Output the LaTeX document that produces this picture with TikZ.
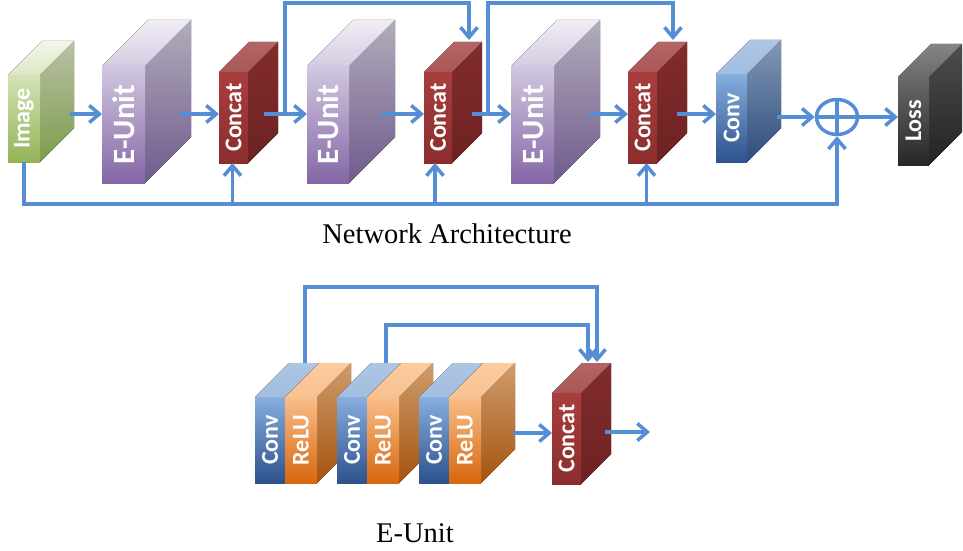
\documentclass[tikz,border=0pt]{standalone}
\usepackage{fontspec}
\setmainfont{Liberation Serif}
\newfontfamily\lblfont{Carlito}
\usetikzlibrary{arrows.meta,calc,shapes.geometric}
\definecolor{ablue}{HTML}{558ED5}
% green (image)
\definecolor{grF1}{HTML}{D3E3B6}\definecolor{grF2}{HTML}{92B456}
\definecolor{grS1}{HTML}{B9C1A6}\definecolor{grS2}{HTML}{7E9C4C}
\definecolor{grT1}{HTML}{F2F6E8}\definecolor{grT2}{HTML}{DCE7C6}
% purple (E-Unit)
\definecolor{puF1}{HTML}{D2C8E0}\definecolor{puF2}{HTML}{8466A6}
\definecolor{puS1}{HTML}{B2ACBA}\definecolor{puS2}{HTML}{6F5B8D}
\definecolor{puT1}{HTML}{F0ECF5}\definecolor{puT2}{HTML}{D6CCE2}
% red (Concat)
\definecolor{rdF1}{HTML}{A83E3E}\definecolor{rdF2}{HTML}{8C2D2D}
\definecolor{rdS1}{HTML}{832C2C}\definecolor{rdS2}{HTML}{6C2222}
\definecolor{rdT1}{HTML}{B46464}\definecolor{rdT2}{HTML}{A95858}
% blue (Conv)
\definecolor{blF1}{HTML}{86AEDF}\definecolor{blF2}{HTML}{2E528C}
\definecolor{blS1}{HTML}{8298B6}\definecolor{blS2}{HTML}{2F4C7C}
\definecolor{blT1}{HTML}{AEC6E4}\definecolor{blT2}{HTML}{A2BDDF}
% black (Loss)
\definecolor{bkF1}{HTML}{6A6A6A}\definecolor{bkF2}{HTML}{262626}
\definecolor{bkS1}{HTML}{4E4E4E}\definecolor{bkS2}{HTML}{222222}
\definecolor{bkT1}{HTML}{858585}\definecolor{bkT2}{HTML}{6A6A6A}
% orange (ReLU)
\definecolor{orF1}{HTML}{F9BE8A}\definecolor{orF2}{HTML}{D7670E}
\definecolor{orS1}{HTML}{CE9C6C}\definecolor{orS2}{HTML}{A5540E}
\definecolor{orT1}{HTML}{FBCB9E}\definecolor{orT2}{HTML}{F8C292}
\tikzset{
  face/.style={anchor=north west, inner sep=0pt, outer sep=0pt},
  lbl/.style={text=white, inner sep=0pt, font=\lblfont\bfseries\fontsize{24}{24}\selectfont},
  biglbl/.style={text=white, inner sep=0pt, font=\lblfont\bfseries\fontsize{31}{31}\selectfont},
  arr/.style={draw=ablue, line width=3.5pt, -{Straight Barb[length=10pt,width=17pt]}},
  cline/.style={draw=ablue, line width=3.5pt},
  title/.style={anchor=base, inner sep=0pt, font=\fontsize{28.5}{28.5}\selectfont},
}
% #1 name, #2 x1, #3 y1, #4 x2, #5 y2, #6 depth, #7 palette, #8 label, #9 label style
\newcommand\cuboid[9]{%
  \fill[top color=#7S1, bottom color=#7S2] (#4,#3) -- ++(#6,-#6) -- (#4+#6,#5-#6) -- (#4,#5) -- cycle;
  \fill[top color=#7T1, bottom color=#7T2] (#2,#3) -- ++(#6,-#6) -- (#4+#6,#3-#6) -- (#4,#3) -- cycle;
  \node[face, minimum width={(#4-#2)*1pt}, minimum height={(#5-#3)*1pt}, top color=#7F1, bottom color=#7F2] (#1) at (#2,#3) {};
  \node[#9, rotate=90] (#1-t) at (#1.center) {#8};
}
% conv + relu pair: #1 suffix, #2 left x
\newcommand\crblock[2]{%
  \fill[top color=orS1, bottom color=orS2] (#2+62,397) -- ++(34,-34) -- (#2+96,449) -- (#2+62,483) -- cycle;
  \fill[top color=blT1, bottom color=blT2] (#2,397) -- ++(34,-34) -- (#2+64,363) -- (#2+30,397) -- cycle;
  \fill[top color=orT1, bottom color=orT2] (#2+30,397) -- ++(34,-34) -- (#2+96,363) -- (#2+62,397) -- cycle;
  \node[face, minimum width=30pt, minimum height=86pt, top color=blF1, bottom color=blF2] (conv#1) at (#2,397) {};
  \node[face, minimum width=32pt, minimum height=86pt, top color=orF1, bottom color=orF2] (relu#1) at (#2+30,397) {};
  \node[lbl, rotate=90] (conv#1-t) at (conv#1.center) {Conv};
  \node[lbl, rotate=90] (relu#1-t) at (relu#1.center) {ReLU};
}
\begin{document}
\begin{tikzpicture}[x=1pt, y=-1pt]
\useasboundingbox (0,0) rectangle (963,551);
\fill[white] (0,0) rectangle (963,551);
% ---------- network architecture ----------
\cuboid{img}{8}{75}{40}{162}{34}{gr}{Image}{lbl}
\cuboid{eu1}{102}{66}{145}{183}{46}{pu}{E-Unit}{biglbl}
\cuboid{c1}{219}{72}{248}{163}{30}{rd}{Concat}{lbl}
\cuboid{eu2}{307}{66}{349}{183}{46}{pu}{E-Unit}{biglbl}
\cuboid{c2}{424}{72}{452}{163}{30}{rd}{Concat}{lbl}
\cuboid{eu3}{511}{66}{554}{183}{46}{pu}{E-Unit}{biglbl}
\cuboid{c3}{628}{72}{657}{163}{30}{rd}{Concat}{lbl}
\cuboid{conv}{716}{74}{747}{162}{34}{bl}{Conv}{lbl}
\cuboid{loss}{898}{77}{929}{165}{33}{bk}{Loss}{lbl}
\node[ellipse, draw=ablue, line width=3.5pt, minimum width=41pt, minimum height=35pt, inner sep=0pt] (plus) at (837,117) {};
\draw[cline] (plus.north) -- (plus.south);
\draw[cline] (plus.west) -- (plus.east);
\coordinate (ya) at (0,114);
\coordinate (yb) at (0,204);
\coordinate (yt) at (0,3);
\draw[arr] ($(img.east |- ya)+(30,0)$) -- (eu1.west |- ya);
\draw[arr] ($(eu1.east |- ya)+(35,0)$) -- (c1.west |- ya);
\draw[arr] ($(c1.east |- ya)+(16,0)$) -- (eu2.west |- ya);
\draw[arr] ($(eu2.east |- ya)+(33,0)$) -- (c2.west |- ya);
\draw[arr] ($(c2.east |- ya)+(20,0)$) -- (eu3.west |- ya);
\draw[arr] ($(eu3.east |- ya)+(36,0)$) -- (c3.west |- ya);
\draw[arr] ($(c3.east |- ya)+(20,0)$) -- (conv.west |- ya);
\draw[arr] ($(conv.east |- plus.west)+(30,0)$) -- (plus.west);
\draw[arr] (plus.east) -- (loss.west |- plus.east);
% skip connections (top)
\coordinate (j1) at (285,114);
\coordinate (j2) at (488,114);
\draw[arr] (j1) -- (j1 |- yt) -| ($(c2.north)+(31,-32)$);
\draw[arr] (j2) -- (j2 |- yt) -| ($(c3.north)+(30.5,-32)$);
% image skip (bottom)
\draw[arr] (img.south) -- (img.south |- yb) -- (plus.south |- yb) -- (plus.south);
\draw[arr] ($(c1.south |- yb)+(-1,0)$) -- ($(c1.south)+(-1,0)$);
\draw[arr] ($(c2.south |- yb)+(-3,0)$) -- ($(c2.south)+(-3,0)$);
\draw[arr] ($(c3.south |- yb)+(4,0)$) -- ($(c3.south)+(4,0)$);
\node[title] (t1) at (447,243) {Network Architecture};
% ---------- E-Unit ----------
\crblock{1}{255}
\crblock{2}{337}
\crblock{3}{419}
\cuboid{bc}{552}{393}{581}{484}{30}{rd}{Concat}{lbl}
\coordinate (yc) at (0,433);
\draw[arr] ($(relu3.east |- yc)+(32,0)$) -- (bc.west |- yc);
\coordinate (out) at (650,432);
\draw[arr] ($(bc.east |- out)+(24,0)$) -- (out);
\draw[arr] ($(conv1.north)+(35,-34)$) -- ++(0,-76) -| ($(bc.north)+(30.5,-31)$);
\draw[arr] ($(conv2.north)+(34,-34)$) -- ++(0,-38) -| ($(bc.north)+(21.5,-31)$);
\node[title] (t2) at (415,542) {E-Unit};
\end{tikzpicture}
\end{document}
